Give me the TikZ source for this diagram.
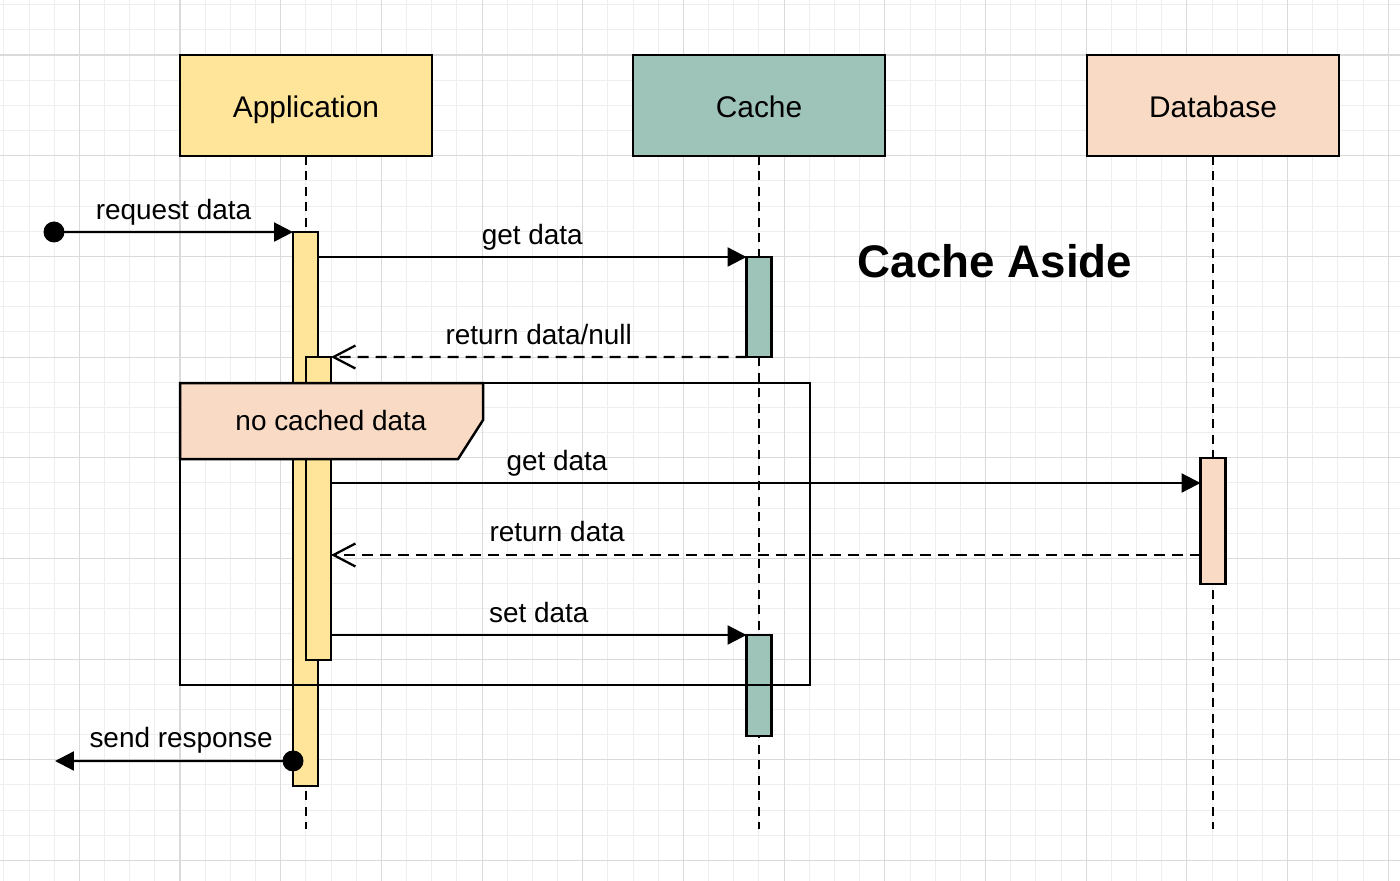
\documentclass[tikz,border=0pt]{standalone}
\usepackage{fontspec}
\setmainfont{Liberation Sans}
\usepackage{xcolor}
\usetikzlibrary{arrows.meta}

\definecolor{appyellow}{RGB}{255,229,153}
\definecolor{cachegreen}{RGB}{158,196,185}
\definecolor{dbpeach}{RGB}{249,219,197}
\definecolor{gridminor}{RGB}{238,238,238}
\definecolor{gridmajor}{RGB}{218,218,218}

\begin{document}
\begin{tikzpicture}[x=0.02cm, y=-0.02cm,
  actor/.style={draw, line width=1.4pt, minimum width=5.04cm, minimum height=2.02cm, inner sep=0pt, outer sep=0pt,
    text height=0.5cm, text depth=0pt, font=\fontsize{17}{20}\selectfont},
  bar/.style={draw, line width=1.4pt, minimum width=0.5cm, inner sep=0pt, outer sep=0pt},
  lifeline/.style={line width=1.4pt, dash pattern=on 0.18cm off 0.13cm},
  call/.style={line width=1.3pt, -{Triangle[length=0.38cm,width=0.38cm]}},
  reply/.style={line width=1.3pt, dash pattern=on 0.22cm off 0.14cm, -{Straight Barb[length=0.44cm,width=0.46cm]}},
  msglabel/.style={anchor=base, yshift=0.26cm, font=\fontsize{15.9}{19}\selectfont}]

  % Draw the grid
  \useasboundingbox (0,0) rectangle (1400,881);
  \foreach \i in {-7,...,48}
    \draw[gridminor, line width=0.5pt] ({180+25.17*\i},0) -- ({180+25.17*\i},881);
  \foreach \j in {-2,...,32}
    \draw[gridminor, line width=0.5pt] (0,{55+25.17*\j}) -- (1400,{55+25.17*\j});
  \foreach \i in {-1,...,12}
    \draw[gridmajor, line width=0.6pt] ({180+100.68*\i},0) -- ({180+100.68*\i},881);
  \foreach \j in {0,...,8}
    \draw[gridmajor, line width=0.6pt] (0,{55+100.68*\j}) -- (1400,{55+100.68*\j});

  % Draw the participants
  \node[actor, fill=appyellow] (app) at (306,105.5) {Application};
  \node[actor, fill=cachegreen] (cache) at (759,105.5) {Cache};
  \node[actor, fill=dbpeach] (db) at (1213,105.5) {Database};

  % Draw the lifelines
  \foreach \n in {app,cache,db}
    \draw[lifeline] (\n.south) -- ++(0,673);

  % Draw the activation bars
  \node[bar, fill=appyellow, minimum height=11.08cm] (appbar) at (305.5,509) {};
  \node[bar, fill=appyellow, minimum height=6.06cm] (appbar2) at (318.5,508.5) {};
  \node[bar, fill=cachegreen, minimum height=2cm] (cachebar1) at (759,307) {};
  \node[bar, fill=cachegreen, minimum height=2.02cm] (cachebar2) at (759,685.5) {};
  \node[bar, fill=dbpeach, minimum height=2.52cm] (dbbar) at (1213,521) {};

  % Draw the alt frame
  \node[draw, line width=1.4pt, minimum width=12.6cm, minimum height=6.04cm, inner sep=0pt, outer sep=0pt] (alt) at (495,534) {};
  \draw[line width=1.4pt, fill=dbpeach] (alt.north west) -- ++(303,0) -- ++(0,37) -- ++(-25,39) -- ++(-278,0) -- cycle;
  \node[msglabel, yshift=-0.26cm] (alttext) at (331,431) {no cached data};

  % Draw the incoming request
  \coordinate (reqdot) at (54,232);
  \draw[call] (reqdot) -- (appbar.north west) node[msglabel, midway] {request data};
  \fill (reqdot) circle (0.21cm);

  % Draw the cache lookup
  \draw[call] (appbar.east |- cachebar1.north) -- (cachebar1.north west) node[msglabel, midway] {get data};
  \draw[reply] (cachebar1.south west) -- (appbar2.north east) node[msglabel, midway] {return data/null};

  % Draw the database read
  \coordinate (dbin) at ([yshift=-0.5cm]dbbar.north west);
  \coordinate (dbout) at ([yshift=0.58cm]dbbar.south west);
  \draw[call] (appbar2.east |- dbin) -- (dbin) node[msglabel, pos=0.26] {get data};
  \draw[reply] (dbout) -- (appbar2.east |- dbout) node[msglabel, pos=0.74] {return data};

  % Draw the cache write
  \draw[call] (appbar2.east |- cachebar2.north) -- (cachebar2.north west) node[msglabel, midway] {set data};

  % Draw the response
  \coordinate (respdot) at ([yshift=0.5cm]appbar.south west);
  \coordinate (resp) at (55,761);
  \draw[call] (respdot) -- (resp) node[msglabel, pos=0.47] {send response};
  \fill (respdot) circle (0.21cm);

  % Draw the title
  \node[anchor=base, font=\bfseries\fontsize{26}{30}\selectfont] (title) at (995,278) {Cache Aside};

\end{tikzpicture}
\end{document}
